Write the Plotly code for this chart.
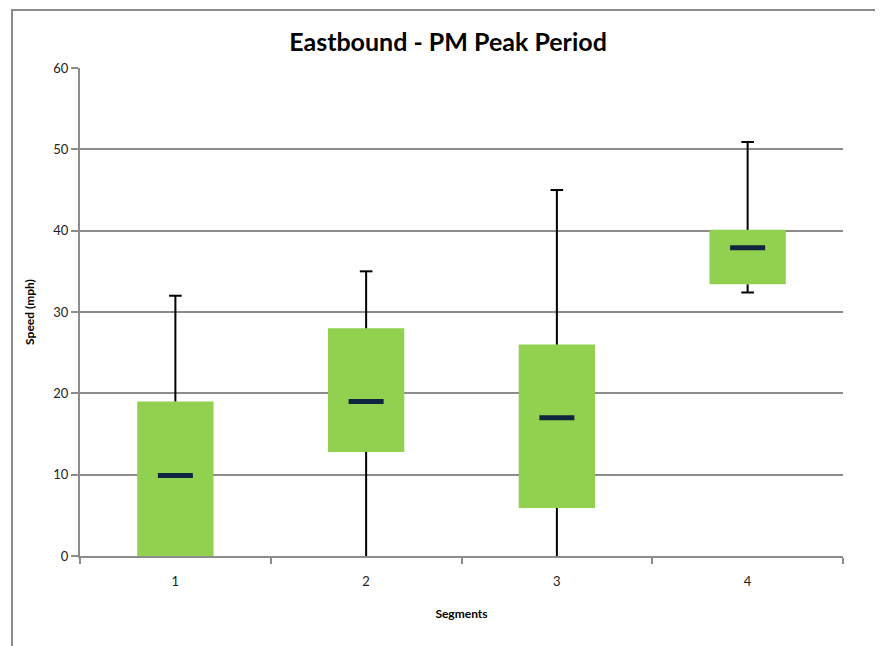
import plotly.graph_objects as go

segments = ["1", "2", "3", "4"]
q1 = [0.0, 12.8, 5.9, 33.4]
median = [9.9, 19.0, 17.0, 37.9]
q3 = [19.0, 28.0, 26.0, 40.1]
low = [0.0, 0.0, 0.0, 32.4]
high = [32.0, 35.0, 45.0, 50.9]
y_ticks = [0, 10, 20, 30, 40, 50, 60]

GREEN = "#92D050"
NAVY = "#10253F"
GRID = "#8C8C8C"
FONT = "Lato"

W, H = 875, 638
L, R, T, B = 72, 40, 60, 90
PW, PH = W - L - R, H - T - B

fig = go.Figure()

# whiskers
wx, wy = [], []
for s, a, b in zip(segments, q3, high):
    wx += [s, s, None]
    wy += [a, b, None]
for s, a, b in zip(segments, q1, low):
    wx += [s, s, None]
    wy += [a, b, None]
fig.add_trace(go.Scatter(x=wx, y=wy, mode="lines",
                         line=dict(color="black", width=2),
                         hoverinfo="skip", showlegend=False))

# whisker caps (a cap sitting on the axis is hidden there)
cx, cy = [], []
for s, v in zip(segments, high):
    cx.append(s); cy.append(v)
for s, v in zip(segments, low):
    if v > 0:
        cx.append(s); cy.append(v)
fig.add_trace(go.Scatter(x=cx, y=cy, mode="markers",
                         marker=dict(symbol="line-ew", size=9,
                                     line=dict(color="black", width=2)),
                         hoverinfo="skip", showlegend=False))

# boxes
fig.add_trace(go.Bar(x=segments, y=[b - a for a, b in zip(q1, q3)], base=q1,
                     width=0.4, marker=dict(color=GREEN, line=dict(width=0)),
                     showlegend=False))

# medians
fig.add_trace(go.Scatter(x=segments, y=median, mode="markers",
                         marker=dict(symbol="line-ew", size=25,
                                     line=dict(color=NAVY, width=5)),
                         showlegend=False))

fig.update_layout(
    width=W, height=H,
    margin=dict(l=L, r=R, t=T, b=B),
    paper_bgcolor="white", plot_bgcolor="white",
    font=dict(family=FONT, color="#222222"),
    title=dict(text="<b>Eastbound - PM Peak Period</b>", x=440 / W,
               xanchor="center", xref="container",
               y=1 - 34 / H, yanchor="middle",
               font=dict(size=25, family=FONT, color="black")),
    xaxis=dict(type="category", categoryorder="array", categoryarray=segments,
               tickson="boundaries", ticks="outside", ticklen=6, tickwidth=2,
               tickcolor=GRID, showline=True, linecolor=GRID, linewidth=2,
               showgrid=False, zeroline=False, ticklabelstandoff=12,
               tickfont=dict(size=13, family=FONT, color="#222222"),
               title=dict(text="<b>Segments</b>", standoff=22,
                          font=dict(size=12, family=FONT, color="black"))),
    yaxis=dict(range=[0, 60], tickvals=y_ticks, ticks="outside", ticklen=7,
               tickwidth=2, tickcolor=GRID, showline=True, linecolor=GRID,
               linewidth=2, showgrid=True, gridcolor=GRID, gridwidth=2,
               zeroline=False,
               tickfont=dict(size=13, family=FONT, color="#222222"),
               title=dict(text="<b>Speed (mph)</b>", standoff=16,
                          font=dict(size=12, family=FONT, color="black"))),
    shapes=[dict(type="rect", xref="paper", yref="paper",
                 x0=(4 - L) / PW, x1=(W + 20 - L) / PW,
                 y0=-(H + 20 - (T + PH)) / PH, y1=1 + (T - 2) / PH,
                 line=dict(color="#8C8C8C", width=2), layer="below")],
    bargap=0.6,
)

fig.write_html("out.html")
